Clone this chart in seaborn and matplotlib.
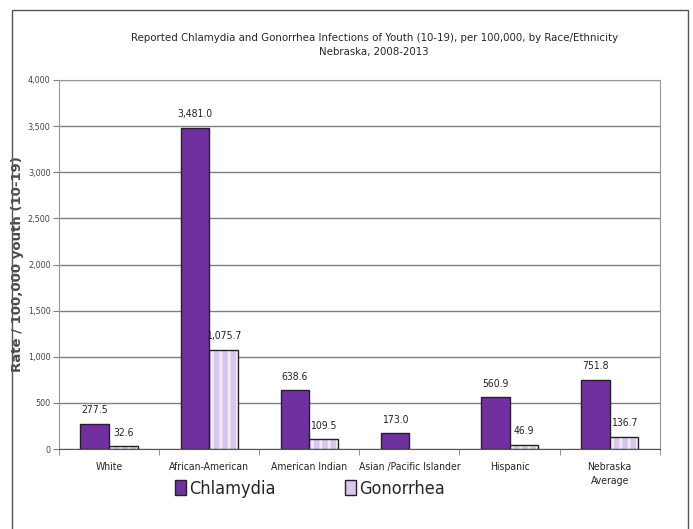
import pandas as pd
import numpy as np
import seaborn as sns
import matplotlib.pyplot as plt
from matplotlib.colors import to_rgba
from matplotlib.patches import Rectangle

# Data
groups = ["White", "African-American", "American Indian", "Asian /Pacific Islander",
          "Hispanic", "Nebraska\nAverage"]
chlamydia = [277.5, 3481.0, 638.6, 173.0, 560.9, 751.8]
gonorrhea = [32.6, 1075.7, 109.5, np.nan, 46.9, 136.7]

df = pd.DataFrame({
    "group": groups * 2,
    "rate": chlamydia + gonorrhea,
    "infection": ["Chlamydia"] * 6 + ["Gonorrhea"] * 6,
})

sns.set_style("white")
plt.rcParams['font.family'] = ['DejaVu Sans']
plt.rcParams['font.stretch'] = 'condensed'
plt.rcParams['hatch.linewidth'] = 2.0

fig = plt.figure(figsize=(6.93, 5.29), dpi=100)
ax = fig.add_axes([0.085, 0.151, 0.867, 0.698])

purple = "#7030A0"
lilac = "#D8C6EE"
sns.barplot(data=df, x="group", y="rate", hue="infection",
            palette=[purple, lilac], saturation=1, width=0.57, gap=0,
            edgecolor="#222222", linewidth=1.0, ax=ax, zorder=3)

# striped gonorrhea bars (light stripes on lilac)
for bar in ax.containers[1]:
    bar.set_hatch("||")
    bar._hatch_color = to_rgba("#F2ECFA")
    bar.stale = True

for cont in ax.containers:
    for bar in cont:
        h = bar.get_height()
        if np.isnan(h):
            continue
        ax.annotate(f"{h:,.1f}", (bar.get_x() + bar.get_width() / 2, h),
                    xytext=(0, 9.7), textcoords="offset points",
                    ha="center", va="center", fontsize=7.5, color="#222222")

ax.set_ylim(0, 4000)
ax.set_yticks(range(0, 4001, 500))
ax.set_yticklabels([f"{v:,}" for v in range(0, 4001, 500)], fontsize=6.5, color="#444444")
ax.yaxis.grid(True, color="#808080", linewidth=1, zorder=0)
ax.tick_params(axis="y", direction="out", length=4, color="#808080", left=True, pad=2)
ax.tick_params(axis="x", length=0, labelsize=7.5, pad=9)
ax.set_xticks(np.arange(-0.5, 6, 1), minor=True)
ax.tick_params(axis="x", which="minor", length=4, color="#808080", bottom=True)
ax.set_xlim(-0.5, 5.5)
for lbl in ax.get_xticklabels():
    lbl.set_linespacing(1.5)
for s in ax.spines.values():
    s.set_color("#999999")
ax.spines["bottom"].set_color("#555555")

ax.set_xlabel("")
ax.set_ylabel("Rate / 100,000 youth (10-19)", fontsize=9.5, fontweight="bold",
              fontstretch="normal", color="#4a4a4a")
ax.yaxis.set_label_coords(-0.058, 0.5)

fig.text(0.54, 0.915, "Reported Chlamydia and Gonorrhea Infections of Youth (10-19), per 100,000, by Race/Ethnicity\nNebraska, 2008-2013",
         ha="center", va="center", fontsize=8.2, linespacing=1.6)

ax.legend(loc="upper center", bbox_to_anchor=(0.418, -0.04), ncol=2, frameon=False,
          prop={"size": 13, "stretch": "condensed"}, handlelength=0.6,
          handleheight=0.9, columnspacing=3.8, handletextpad=0.2)

# outer chart border
fig.patches.append(Rectangle((12 / 693, -0.02), 676 / 693, 1 - 10 / 529 + 0.02,
                             transform=fig.transFigure, fill=False,
                             edgecolor="#555555", linewidth=1))

fig.savefig("out.png", dpi=100)
